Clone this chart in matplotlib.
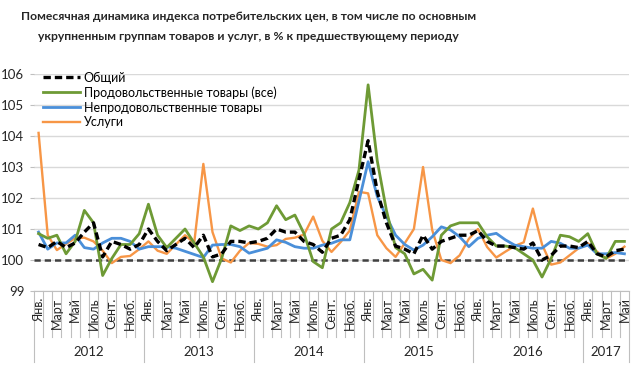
import numpy as np
import matplotlib.pyplot as plt
from matplotlib import transforms

plt.rcParams['font.family'] = ['Lato', 'DejaVu Sans']

years = ['2012', '2013', '2014', '2015', '2016', '2017']
month_labels = ['Янв.', '', 'Март', '', 'Май', '', 'Июль', '', 'Сент.', '', 'Нояб.', '']
series_names = ['Общий', 'Продовольственные товары (все)', 'Непродовольственные товары', 'Услуги']

# % к предыдущему месяцу, янв. 2012 - май 2017
obshchiy = [100.5, 100.4, 100.6, 100.4, 100.55, 100.9, 101.2, 100.1, 100.6, 100.5, 100.35, 100.5,
            101.0, 100.6, 100.3, 100.5, 100.7, 100.4, 100.8, 100.1, 100.2, 100.6, 100.6, 100.55,
            100.6, 100.7, 101.0, 100.9, 100.9, 100.6, 100.5, 100.25, 100.7, 100.8, 101.3, 102.6,
            103.85, 102.2, 101.2, 100.45, 100.35, 100.2, 100.8, 100.35, 100.6, 100.7, 100.8, 100.8,
            100.95, 100.6, 100.45, 100.45, 100.4, 100.35, 100.55, 100.0, 100.15, 100.45, 100.45, 100.4,
            100.6, 100.2, 100.1, 100.3, 100.35]
prod = [100.85, 100.7, 100.8, 100.2, 100.6, 101.6, 101.2, 99.5, 100.05, 100.5, 100.5, 100.85,
        101.8, 100.8, 100.4, 100.7, 101.0, 100.55, 100.1, 99.3, 100.05, 101.1, 100.95, 101.1,
        101.0, 101.2, 101.75, 101.3, 101.45, 100.85, 99.95, 99.75, 101.0, 101.2, 101.85, 102.9,
        105.65, 103.2, 101.6, 100.4, 100.2, 99.55, 99.7, 99.35, 100.8, 101.1, 101.2, 101.2,
        101.2, 100.75, 100.45, 100.45, 100.4, 100.2, 100.0, 99.45, 100.05, 100.8, 100.75, 100.6,
        100.85, 100.2, 100.05, 100.6, 100.6]
neprod = [100.9, 100.35, 100.55, 100.55, 100.8, 100.4, 100.35, 100.55, 100.7, 100.7, 100.6, 100.35,
          100.43, 100.43, 100.43, 100.38, 100.28, 100.18, 100.08, 100.48, 100.5, 100.5, 100.43, 100.22,
          100.3, 100.38, 100.65, 100.57, 100.43, 100.38, 100.38, 100.48, 100.54, 100.65, 100.65, 101.9,
          103.17, 102.05, 101.4, 100.8, 100.5, 100.32, 100.48, 100.75, 101.07, 100.97, 100.75, 100.43,
          100.7, 100.8, 100.86, 100.65, 100.48, 100.43, 100.38, 100.38, 100.6, 100.54, 100.38, 100.38,
          100.48, 100.2, 100.2, 100.24, 100.2]
uslugi = [104.1, 100.8, 100.32, 100.52, 100.7, 100.72, 100.6, 100.3, 99.9, 100.1, 100.13, 100.35,
          100.6, 100.3, 100.2, 100.5, 100.8, 100.55, 103.1, 100.9, 100.05, 99.92, 100.3, 100.55,
          100.52, 100.43, 100.48, 100.68, 100.72, 100.82, 101.4, 100.62, 100.26, 100.58, 100.95, 102.2,
          102.15, 100.8, 100.38, 100.1, 100.54, 101.0, 103.0, 100.97, 100.0, 99.9, 100.15, 100.68,
          101.0, 100.42, 100.08, 100.27, 100.45, 100.57, 101.66, 100.5, 99.85, 99.92, 100.15, 100.38,
          100.54, 100.27, 100.05, 100.2, 100.43]

n = len(obshchiy)
x = np.arange(n)

fig = plt.figure(figsize=(6.4, 3.66), dpi=100)
ax = fig.add_axes([34/640, 1-291/366, (629-34)/640, (291-74)/366])

ax.axhline(100, color='#404040', lw=1.8, ls=(0, (2.5, 1.6)), zorder=2)
l_usl, = ax.plot(x, uslugi, color='#F79646', lw=1.7, zorder=3)
l_nep, = ax.plot(x, neprod, color='#4A8FD9', lw=2.0, zorder=3)
l_prod, = ax.plot(x, prod, color='#6E9A35', lw=2.0, zorder=3)
l_obs, = ax.plot(x, obshchiy, color='black', lw=2.4, ls=(0, (2.2, 1.2)), zorder=4)

ax.set_xlim(-0.5, n-0.5)
ax.set_ylim(99, 106)
ax.set_yticks(range(99, 107))
ax.tick_params(axis='y', length=3, color='#bfbfbf', labelsize=9.5, labelcolor='#262626', pad=4)
ax.grid(axis='y', color='#d9d9d9', lw=1)
ax.set_axisbelow(True)
ax.set_xticks([])
for s in ['left', 'top', 'right']:
    ax.spines[s].set_visible(False)
ax.spines['bottom'].set_color('#bfbfbf')

trans = transforms.blended_transform_factory(ax.transData, ax.transAxes)
for i in range(n + 1):
    bottom = -0.327 if i % 12 == 0 or i == n else -0.212
    ax.plot([i-0.5, i-0.5], [0, bottom], transform=trans, clip_on=False, color='#bfbfbf', lw=0.8)
for i in range(n):
    lab = month_labels[i % 12]
    if lab:
        ax.text(i, -0.03, lab, transform=trans, rotation=90, ha='center', va='top',
                fontsize=9, color='#262626')
for k, yr in enumerate(years):
    start = 12*k
    end = min(start+12, n)
    ax.text((start+end-1)/2, -0.281, yr, transform=trans, ha='center', va='center',
            fontsize=9.5, color='#262626')

ax.legend([l_obs, l_prod, l_nep, l_usl], series_names, loc='upper left',
          bbox_to_anchor=(0.015, 1.012), frameon=False, fontsize=9, handlelength=3.0,
          handletextpad=0.25, labelspacing=0.22, borderpad=0, borderaxespad=0)

fig.text(0.388, 0.928, 'Помесячная динамика индекса потребительских цен, в том числе по основным\n'
         'укрупненным группам товаров и услуг, в % к предшествующему периоду',
         ha='center', va='center', fontsize=8.7, fontweight='bold', linespacing=1.95, color='#262626')

fig.savefig('out.png', dpi=100)
